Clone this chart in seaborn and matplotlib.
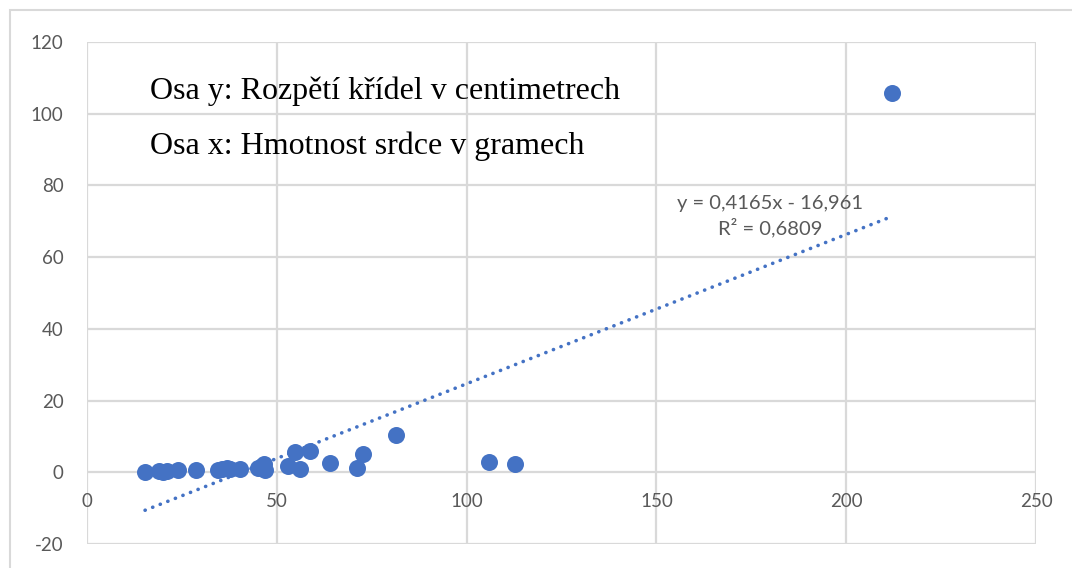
import numpy as np
import pandas as pd
import matplotlib
matplotlib.use("Agg")
import matplotlib.pyplot as plt
import seaborn as sns
from matplotlib.patches import Rectangle

# ---- data ----
heart_mass_g = [15.3, 19.0, 20.0, 21.0, 24.0, 28.8, 34.6, 35.5, 36.9, 37.8, 40.4,
                45.0, 46.0, 46.5, 47.0, 53.0, 54.9, 56.0, 58.8, 63.9, 71.2, 72.6,
                81.3, 105.8, 112.7, 212.1]
wingspan_cm = [0.1, 0.3, 0.2, 0.4, 0.5, 0.7, 0.6, 1.0, 1.2, 0.9, 0.8,
               1.3, 1.8, 2.2, 0.7, 1.7, 5.6, 0.8, 5.9, 2.5, 1.1, 5.0,
               10.3, 2.8, 2.2, 105.8]
trend_slope = 0.4165
trend_intercept = -16.961
trend_label = "y = 0,4165x - 16,961\nR² = 0,6809"
y_ticks = [-20, 0, 20, 40, 60, 80, 100, 120]
x_ticks = [0, 50, 100, 150, 200, 250]
note_lines = ["Osa y: Rozpětí křídel v centimetrech", "Osa x: Hmotnost srdce v gramech"]

df = pd.DataFrame({"x": heart_mass_g, "y": wingspan_cm})

sns.set_style("white")
plt.rcParams['font.family'] = ['Lato', 'DejaVu Sans']
plt.rcParams['axes.unicode_minus'] = False

W, H = 1072, 568
fig = plt.figure(figsize=(W / 100, H / 100), dpi=100)
ax = fig.add_axes([87 / W, 1 - 544 / H, (1036 - 87) / W, (544 - 42) / H])

blue = "#4472C4"
grid_c = "#D9D9D9"
text_c = "#595959"

# trendline
xs = np.array([min(heart_mass_g), max(heart_mass_g)])
ax.plot(xs, trend_slope * xs + trend_intercept, color=blue, lw=2.6,
        linestyle=(0, (0.05, 2.2)), dash_capstyle='round', zorder=2)

sns.scatterplot(data=df, x="x", y="y", ax=ax, color=blue, s=150,
                edgecolor=blue, linewidth=0, zorder=3, legend=False)

ax.set_xlim(0, 250)
ax.set_ylim(-20, 120)
ax.set_xticks(x_ticks)
ax.set_yticks(y_ticks)
ax.set_xlabel("")
ax.set_ylabel("")
ax.grid(True, color=grid_c, lw=1.6)
ax.set_axisbelow(True)
for s in ["top", "right", "left"]:
    ax.spines[s].set_visible(False)
ax.spines["bottom"].set_position(("data", 0))
ax.spines["bottom"].set_visible(False)
ax.tick_params(axis="both", length=0, labelsize=13.5, labelcolor=text_c)
ax.tick_params(axis="y", pad=17)
ax.tick_params(axis="x", pad=15)

# notes
fig.text(150 / W, 1 - 99 / H, note_lines[0], family="Liberation Serif",
         fontsize=23, color="black", ha="left", va="baseline")
fig.text(150 / W, 1 - 154 / H, note_lines[1], family="Liberation Serif",
         fontsize=23, color="black", ha="left", va="baseline")

# equation
ax.text(0.72, 0.653, trend_label, transform=ax.transAxes, ha="center", va="center",
        fontsize=14.5, color=text_c, linespacing=1.3)

# outer chart border
fig.patches.append(Rectangle((10 / W, -0.1), 1.2, 1 - 10 / H + 0.1,
                             transform=fig.transFigure, fill=False,
                             edgecolor=grid_c, lw=1.5))

fig.savefig("out.png", dpi=100, facecolor="white")
